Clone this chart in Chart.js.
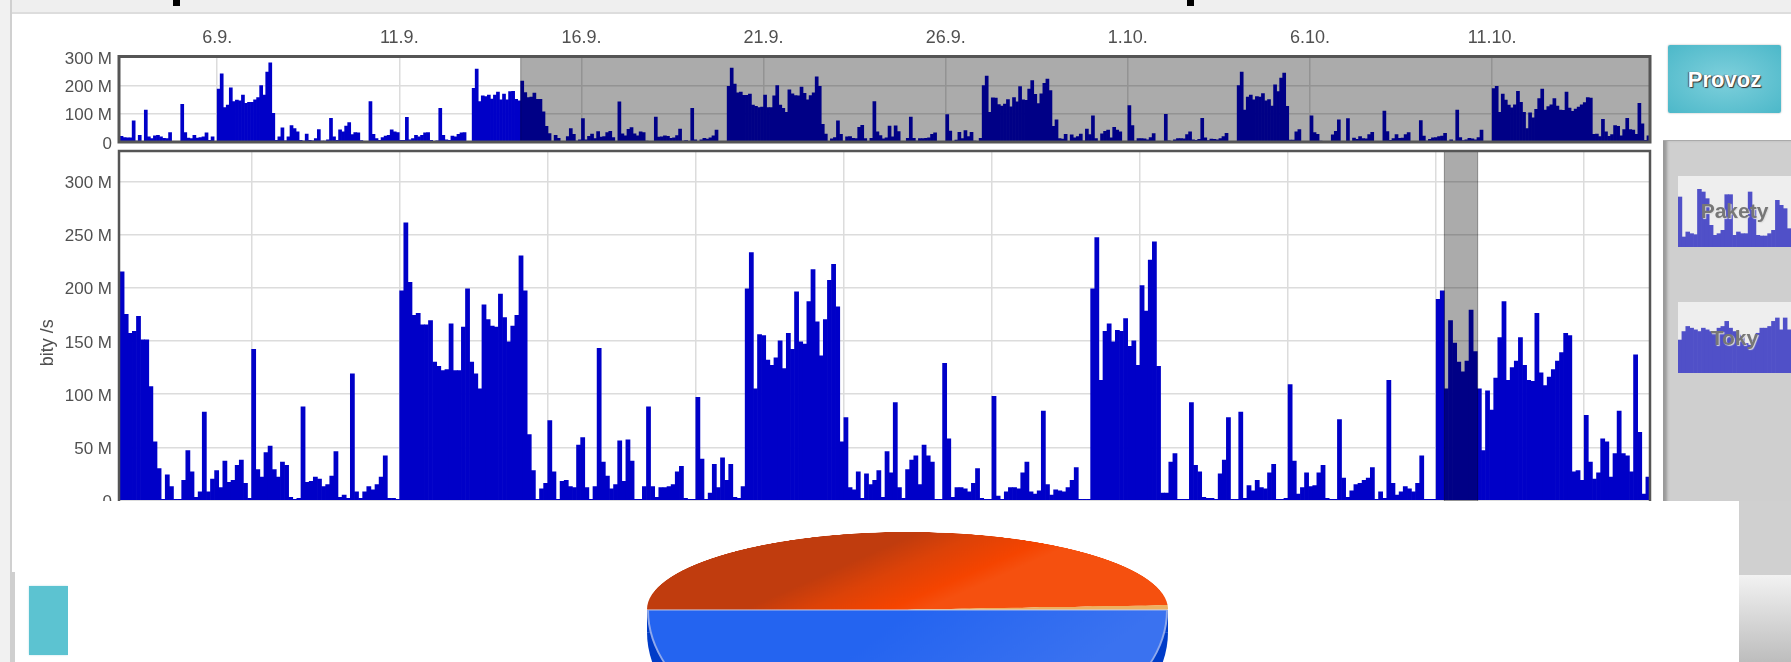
<!DOCTYPE html>
<html>
<head>
<meta charset="utf-8">
<title>Provoz</title>
<script src="https://cdn.jsdelivr.net/npm/chart.js@4"></script>
<style>
  html, body { margin: 0; padding: 0; }
  body { width: 1791px; height: 662px; overflow: hidden; position: relative; background: #fff; font-family: "Liberation Sans", sans-serif; }
  div, canvas { position: absolute; }
  canvas { filter: blur(0.5px); }
  #topStrip { left: 0; top: 0; width: 1791px; height: 12px; background: #efefef; border-bottom: 2px solid #ddd; }
  #leftStrip { left: 0; top: 0; width: 10px; height: 662px; background: #f1f1f1; border-right: 2px solid #d0d0d0; }
  .speck { background: #000; top: 0; width: 7px; height: 6px; }
  #sidebar { left: 1663px; top: 140px; width: 128px; height: 522px; background: #cfcfcf; border-top: 1px solid #aaa; box-shadow: inset 5px 0 3px -1px #999; }
  #provoz { left: 1668px; top: 45px; width: 113px; height: 68px; border-radius: 2px; color: #fff; font-weight: bold; font-size: 22px; line-height: 70px; text-align: center;
    background: radial-gradient(ellipse at center, #7fd0dc 0%, #4cb8c9 100%); text-shadow: 1px 1px 1px #333, -1px 0 1px #555; box-shadow: 0 0 2px #aaa; }
  .thumb { left: 1678px; width: 113px; height: 71px; background: #eee; }
  .thumbLabel { left: 1678px; width: 113px; text-align: center; color: #777; font-weight: bold; font-size: 21px; text-shadow: 1px 1px 1px #ddd; }
  #panel { left: 68px; top: 501px; width: 1671px; height: 161px; background: #fff; overflow: hidden; }
  #leftWhite { left: 12px; top: 501px; width: 56px; height: 161px; background: #fff; }
  #leftEdge { left: 10px; top: 572px; width: 5px; height: 90px; background: #cfcfcf; }
  #teal { left: 29px; top: 586px; width: 39px; height: 69px; background: #5cc3d1; box-shadow: 0 0 2px #bfe4ea; }
  #cornerGrey { left: 1739px; top: 501px; width: 52px; height: 74px; background: #d0d0d0; }
  #cornerFade { left: 1739px; top: 575px; width: 52px; height: 87px; background: linear-gradient(#f2f2f2, #bdbdbd); }
  #pieEdge { left: 579px; top: 109px; width: 521px; height: 22px; background: #003cc8; }
  #pieSide, #pieFront { left: 579px; transform-origin: 0 0; transform: scaleY(0.58); }
  #pieSide { top: -20px; }
  #pieFront { top: -42px; }
  #pieBack { left: 579px; top: 31px; transform-origin: 0 0; transform: scaleY(0.2975); }
</style>
</head>
<body>
<div id="topStrip"></div>
<div id="leftStrip"></div>
<div class="speck" style="left:173px"></div>
<div class="speck" style="left:1187px"></div>
<div id="sidebar"></div>
<div id="provoz">Provoz</div>
<div class="thumb" style="top:176px"><canvas id="paketyThumb" width="113" height="71"></canvas></div>
<div class="thumbLabel" style="top:199px">Pakety</div>
<div class="thumb" style="top:302px"><canvas id="tokyThumb" width="113" height="71"></canvas></div>
<div class="thumbLabel" style="top:326px">Toky</div>
<canvas id="overviewChart" width="1660" height="180" style="left:0;top:0"></canvas>
<canvas id="mainChart" width="1660" height="420" style="left:0;top:140px"></canvas>
<div id="leftWhite"></div>
<div id="leftEdge"></div>
<div id="teal"></div>
<div id="cornerGrey"></div>
<div id="cornerFade"></div>
<div id="panel">
  <canvas id="pieSide" width="521" height="521"></canvas>
  <div id="pieEdge"></div>
  <canvas id="pieFront" width="521" height="521"></canvas>
  <canvas id="pieBack" width="521" height="521"></canvas>
</div>
<script>
// Two hour samples in Mbit/s
const earlierValues = [
  20, 16, 15, 15, 75, 3, 24, 2, 113, 18, 12, 22, 24, 18, 13, 12, 33, 2, 1, 2,
  133, 33, 14, 12, 24, 14, 16, 18, 32, 6, 18, 2,
  187, 241, 122, 130, 191, 143, 148, 145, 166, 137, 140, 140, 149, 157, 199, 166, 247, 280, 101,
  6, 18, 50, 4, 18, 58, 47, 36, 6, 3, 28, 6, 4, 12, 44, 3, 3, 8, 84, 18, 6, 43, 36, 56, 69, 26, 33, 32, 5, 2, 2,
  143, 27, 12, 6, 16, 21, 24, 43, 36, 33, 6, 6, 87, 8, 12, 24, 18, 24, 32, 33, 6, 2, 4,
  119, 24, 8, 6, 21, 18, 27, 32, 33, 2, 2,
  190, 258, 143, 163, 160, 166, 152, 166, 176, 149, 169, 149, 178, 179, 151, 145
];
const selectedValues = [
  215, 175, 157, 159, 173, 151, 151, 107, 55, 30, 1, 24, 13, 1, 1, 19, 47, 27, 3, 8,
  83, 8, 20, 28, 12, 37, 17, 19, 33, 38, 16, 2, 142, 29, 22, 45, 51, 29, 22, 36,
  33, 3, 1, 2, 88, 17, 18, 22, 20, 13, 15, 23, 46, 3, 5, 2, 119, 8, 2, 8,
  13, 10, 15, 22, 42, 2, 2, 1, 197, 261, 205, 174, 176, 165, 165, 169, 130, 126, 122, 123,
  166, 122, 122, 163, 199, 130, 119, 105, 184, 170, 164, 163, 194, 172, 149, 164, 174, 230, 197, 62,
  28, 1, 11, 16, 75, 27, 1, 18, 19, 13, 12, 52, 59, 12, 1, 13, 143, 36, 23, 11,
  15, 56, 18, 57, 37, 1, 1, 13, 88, 13, 3, 12, 12, 13, 15, 27, 32, 2, 1, 1,
  97, 39, 1, 7, 34, 12, 40, 19, 34, 3, 2, 13, 199, 233, 105, 156, 155, 132, 127, 134,
  150, 124, 157, 142, 196, 149, 147, 187, 217, 168, 136, 170, 207, 222, 182, 55, 78, 12, 10, 27,
  2, 25, 15, 19, 28, 3, 46, 26, 92, 12, 2, 29, 38, 42, 15, 52, 42, 36, 1, 1,
  129, 58, 3, 12, 12, 11, 8, 16, 30, 2, 1, 1, 98, 4, 1, 8, 12, 12, 11, 26,
  36, 8, 6, 9, 84, 15, 5, 10, 9, 8, 12, 19, 31, 1, 1, 1, 199, 247, 113, 159,
  166, 149, 160, 159, 171, 145, 150, 127, 202, 178, 226, 243, 126, 7, 7, 36, 44, 1, 1, 1,
  92, 33, 27, 3, 2, 2, 1, 25, 38, 78, 1, 1, 83, 2, 14, 9, 19, 12, 11, 26,
  34, 1, 1, 2, 109, 37, 6, 12, 26, 13, 14, 26, 33, 2, 1, 1, 76, 21, 3, 9,
  15, 16, 19, 21, 31, 1, 8, 2, 113, 16, 5, 8, 13, 11, 8, 16, 42, 1, 1, 1,
  189, 197, 105, 169, 148, 130, 121, 131, 179, 140, 105, 47, 103, 85, 115, 153, 187, 113, 125, 131,
  153, 127, 113, 112, 176, 120, 108, 116, 123, 131, 139, 157, 155, 27, 28, 19, 80, 36, 20, 26,
  58, 55, 22, 44, 84, 44, 42, 27, 137, 64, 6, 22
];
const overviewDays = ['6.9.', '11.9.', '16.9.', '21.9.', '26.9.', '1.10.', '6.10.', '11.10.'];
const overviewDayStarts = [32, 92, 152, 212, 272, 332, 392, 452];
const mainDayStarts = [32, 68, 104, 140, 176, 212, 248, 284, 320, 356];
const overviewTicks = [0, 100, 200, 300];
const mainTicks = [0, 50, 100, 150, 200, 250, 300];
const paketyValues = [150, 30, 45, 40, 37, 173, 165, 145, 65, 35, 40, 50, 157, 157, 35, 45, 40, 40, 165, 115, 35, 33, 33, 40, 50, 140, 125, 115, 55];
const tokyValues = [97, 122, 137, 132, 127, 122, 132, 127, 122, 122, 132, 137, 152, 132, 122, 112, 107, 87, 82, 97, 117, 132, 132, 137, 152, 162, 127, 162, 127];
const pieLabels = ['A', 'B', 'C'];
const pieValues = [49.1, 0.9, 50];

const barBlue = 'rgb(0, 0, 200)';
const gridGrey = '#dcdcdc';
const textGrey = '#505050';

// Darkened selection band plus the heavy plot frame
function selectionPlugin(from, to, frameWidth) {
  return {
    id: 'selection',
    afterDraw(chart) {
      const c = chart.ctx, a = chart.chartArea, x = chart.scales.x;
      const x0 = x.getPixelForValue(from), x1 = x.getPixelForValue(to);
      c.save();
      c.fillStyle = 'rgba(0, 0, 0, 0.33)';
      c.fillRect(x0, a.top, x1 - x0, a.bottom - a.top);
      c.strokeStyle = 'rgba(0, 0, 0, 0.35)';
      c.lineWidth = 1;
      c.strokeRect(x0, a.top, x1 - x0, a.bottom - a.top);
      c.strokeStyle = '#555';
      c.lineWidth = frameWidth;
      c.strokeRect(a.left - 1, a.top, a.right - a.left + 1, a.bottom - a.top);
      c.restore();
    }
  };
}

function createTrafficChart(canvasId, values, opts) {
  return new Chart(document.getElementById(canvasId), {
    type: 'bar',
    data: {
      datasets: [{
        data: values.map((v, i) => ({ x: i + 0.5, y: v })),
        backgroundColor: barBlue,
        barPercentage: 1,
        categoryPercentage: 1
      }]
    },
    options: {
      responsive: false,
      animation: false,
      layout: { padding: opts.padding },
      plugins: { legend: { display: false }, tooltip: { enabled: false } },
      scales: {
        x: {
          type: 'linear',
          offset: false,
          position: opts.xPosition,
          min: 0,
          max: values.length,
          border: { display: false },
          grid: { color: gridGrey, lineWidth: 1.5, drawTicks: false, offset: false },
          afterBuildTicks: s => { s.ticks = opts.dayStarts.map(v => ({ value: v })); },
          afterFit: s => {
            if (opts.xHeight) s.height = opts.xHeight;
            s.paddingLeft = 0;
            s.paddingRight = 0;
          },
          ticks: {
            display: !!opts.dayLabels,
            autoSkip: false,
            maxRotation: 0,
            padding: 7.5,
            color: textGrey,
            font: { family: 'Liberation Sans', size: 18 },
            callback: (v, i) => opts.dayLabels ? opts.dayLabels[i] : ''
          }
        },
        y: {
          min: opts.yMin,
          max: opts.yMax,
          border: { display: false },
          grid: { color: gridGrey, lineWidth: 1.5, drawTicks: false },
          afterBuildTicks: s => { s.ticks = opts.yTicks.map(v => ({ value: v })); },
          afterFit: s => {
            s.width = 120;
            s.paddingTop = 0;
            s.paddingBottom = 0;
          },
          title: opts.yTitle ? {
            display: true,
            text: opts.yTitle,
            color: textGrey,
            font: { family: 'Liberation Sans', size: 18 },
            padding: { top: 37, bottom: 0 }
          } : { display: false },
          ticks: {
            padding: 8,
            labelOffset: 2,
            color: textGrey,
            font: { family: 'Liberation Sans', size: 17 },
            callback: v => v === 0 ? '0' : v + ' M'
          }
        }
      }
    },
    plugins: [selectionPlugin(opts.selFrom, opts.selTo, opts.frameWidth)]
  });
}

createTrafficChart('overviewChart', earlierValues.concat(selectedValues), {
  padding: { top: 0, right: 10, bottom: 38, left: 0 },
  xPosition: 'top',
  xHeight: 56.5,
  dayStarts: overviewDayStarts,
  dayLabels: overviewDays,
  yMin: 0,
  yMax: 302,
  yTicks: overviewTicks,
  selFrom: earlierValues.length,
  selTo: earlierValues.length + selectedValues.length,
  frameWidth: 3
});

// The plot runs on under the white panel, so the axis goes a little below zero
createTrafficChart('mainChart', selectedValues, {
  padding: { top: 11, right: 10, bottom: 25.5, left: 0 },
  xPosition: 'bottom',
  dayStarts: mainDayStarts,
  yMin: -32,
  yMax: 328.5,
  yTicks: mainTicks,
  yTitle: 'bity /s',
  selFrom: 322,
  selTo: 330.1,
  frameWidth: 2.5
});

// Small previews in the sidebar
function createThumb(canvasId, values, yMax) {
  return new Chart(document.getElementById(canvasId), {
    type: 'bar',
    data: {
      labels: values.map((v, i) => i),
      datasets: [{ data: values, backgroundColor: '#5050c8', barPercentage: 1, categoryPercentage: 1 }]
    },
    options: {
      responsive: false,
      animation: false,
      plugins: { legend: { display: false }, tooltip: { enabled: false } },
      scales: { x: { display: false }, y: { display: false, min: 0, max: yMax } }
    }
  });
}
createThumb('paketyThumb', paketyValues, 213);
createThumb('tokyThumb', tokyValues, 209);

// The tilted pie: the back half, the front face and the dark side are separate pies squashed with CSS
function createPie(canvasId, colors, borderColor, borderWidth) {
  return new Chart(document.getElementById(canvasId), {
    type: 'pie',
    data: {
      labels: pieLabels,
      datasets: [{ data: pieValues, backgroundColor: colors, borderColor: borderColor, borderWidth: borderWidth }]
    },
    options: {
      responsive: false,
      animation: false,
      rotation: -90,
      plugins: { legend: { display: false }, tooltip: { enabled: false } }
    }
  });
}

const backCtx = document.getElementById('pieBack').getContext('2d');
const orangeFill = backCtx.createLinearGradient(208, 94, 333, 178);
orangeFill.addColorStop(0, '#c03c0e');
orangeFill.addColorStop(0.35, '#dc4208');
orangeFill.addColorStop(0.8, '#f54400');
orangeFill.addColorStop(1, '#f5500f');

const frontCtx = document.getElementById('pieFront').getContext('2d');
const blueFill = frontCtx.createLinearGradient(260, 260, 420, 380);
blueFill.addColorStop(0, '#2464f0');
blueFill.addColorStop(1, '#3a72f0');

createPie('pieSide', ['transparent', 'transparent', '#003cc8'], 'transparent', 0);
createPie('pieFront', ['transparent', 'transparent', blueFill], ['transparent', 'transparent', '#8fa9ec'], 2);
createPie('pieBack', [orangeFill, '#eeb060', 'transparent'], 'transparent', 0);
</script>
</body>
</html>
